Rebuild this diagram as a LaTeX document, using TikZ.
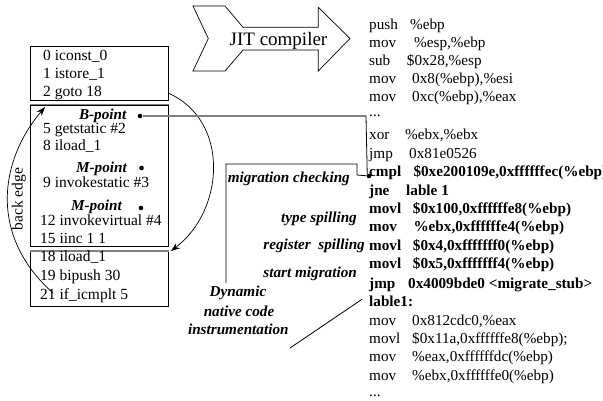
\documentclass[tikz,border=0pt]{standalone}
\usepackage{fontspec}
\setmainfont{Liberation Serif}
\usetikzlibrary{arrows.meta}

\begin{document}
\begin{tikzpicture}[x=1pt,y=-1pt,
  txt/.style={anchor=base west,inner sep=0pt,font=\fontsize{15.5}{18}\selectfont},
  lbl/.style={anchor=base east,inner sep=0pt,font=\fontsize{15.2}{18}\selectfont\bfseries\itshape},
  clbl/.style={anchor=base,inner sep=0pt,font=\fontsize{15.2}{18}\selectfont\bfseries\itshape},
  code/.style={anchor=base west,inner sep=0pt,font=\fontsize{15.2}{18}\selectfont},
  bcode/.style={anchor=base west,inner sep=0pt,font=\fontsize{15.2}{18}\selectfont\bfseries},
  blockbox/.style={draw,line width=0.8pt,anchor=north west,inner sep=0pt},
  topedge/.style={draw=black!50,line width=1.6pt},
  dot/.style={circle,fill,inner sep=0pt,minimum size=4.6pt},
  arr/.style={-{Stealth[length=9pt,width=6.5pt]},line width=0.7pt},
  link/.style={line width=0.8pt},
]
\useasboundingbox (0,0) rectangle (603,400);

% bytecode basic blocks
\node[blockbox,minimum width=138.5pt,minimum height=54pt] (b1) at (29.5,45.5) {};
\node[blockbox,minimum width=138.5pt,minimum height=141.5pt] (b2) at (29.5,104.5) {};
\node[blockbox,minimum width=138.5pt,minimum height=55pt] (b3) at (29.5,251) {};
\draw[topedge] (b2.north west) -- (b2.north east);
\draw[topedge] (b3.north west) -- (b3.north east);

\node[txt] (i0) at (43,60.5) {0 iconst\_0};
\node[txt] (i1) at (43,78.5) {1 istore\_1};
\node[txt] (i2) at (43,96.5) {2 goto 18};

\node[lbl] (bp) at (126.5,119.5) {B-point};
\node[dot] (bpd) at (140,116) {};
\node[txt] (i5) at (43,133) {5 getstatic \#2};
\node[txt] (i8) at (43,150.7) {8 iload\_1};
\node[lbl] (mp1) at (127,172.5) {M-point};
\node[dot] (mpd1) at (141.5,168) {};
\node[txt] (i9) at (43,187.3) {9 invokestatic \#3};
\node[lbl] (mp2) at (122,210) {M-point};
\node[dot] (mpd2) at (141,208) {};
\node[txt] (i12) at (40,225) {12 invokevirtual \#4};
\node[txt] (i15) at (40,243.3) {15 iinc 1 1};

\node[txt] (i18) at (40,261.5) {18 iload\_1};
\node[txt] (i19) at (40,280.5) {19 bipush 30};
\node[txt] (i21) at (40,299.3) {21 if\_icmplt 5};

% control flow edges
\coordinate (gotoout) at (168,93);
\coordinate (gotoin) at (171,251);
\draw[arr] (gotoout) .. controls (230,120) and (225,210) .. (gotoin);
\coordinate (backout) at (53,293);
\coordinate (backin) at (45,107);
\draw[arr] (backout) .. controls (-12,235) and (0,160) .. (backin);
\node[rotate=90,inner sep=0pt,font=\fontsize{15.5}{18}\selectfont] (backlbl) at (19,199) {back edge};

% compiler arrow
\draw[line width=0.7pt] (193,6) -- (225,6) -- (243,27.3) -- (318.3,27.3) -- (318.3,7.3)
  -- (350,38.5) -- (318.3,71) -- (318.3,50) -- (243,50) -- (225,71) -- (193,71)
  -- (208.3,38.5) -- cycle;
\node[anchor=base,inner sep=0pt,font=\fontsize{19}{22}\selectfont] (jit) at (278.5,45.5) {JIT compiler};

% generated native code
\node[code] (c1) at (369,29.3) {push};   \node[code] (c1o) at (410,29.3) {\%ebp};
\node[code] (c2) at (369,47.3) {mov};    \node[code] (c2o) at (414,47.3) {\%esp,\%ebp};
\node[code] (c3) at (369,65) {sub};      \node[code] (c3o) at (406.7,65) {\$0x28,\%esp};
\node[code] (c4) at (369,83.3) {mov};    \node[code] (c4o) at (412,83.3) {0x8(\%ebp),\%esi};
\node[code] (c5) at (369,101.7) {mov};   \node[code] (c5o) at (412,101.7) {0xc(\%ebp),\%eax};
\node[code] (c6) at (369,116) {...};
\node[code] (c7) at (369,139) {xor};     \node[code] (c7o) at (405,139) {\%ebx,\%ebx};
\node[code] (c8) at (369,158.3) {jmp};   \node[code] (c8o) at (409,158.3) {0x81e0526};
\node[bcode] (c9) at (369,176.7) {cmpl};  \node[bcode] (c9o) at (413.3,176.7) {\$0xe200109e,0xffffffec(\%ebp)};
\node[bcode] (c10) at (369,195) {jne};    \node[bcode] (c10o) at (406,195) {lable 1};
\node[bcode] (c11) at (369,213.3) {movl};  \node[bcode] (c11o) at (412.7,213.3) {\$0x100,0xffffffe8(\%ebp)};
\node[bcode] (c12) at (369,231.7) {mov};   \node[bcode] (c12o) at (413.3,231.7) {\%ebx,0xffffffe4(\%ebp)};
\node[bcode] (c13) at (369,250) {movl};    \node[bcode] (c13o) at (412.7,250) {\$0x4,0xfffffff0(\%ebp)};
\node[bcode] (c14) at (369,268.5) {movl};  \node[bcode] (c14o) at (412.7,268.5) {\$0x5,0xfffffff4(\%ebp)};
\node[bcode] (c15) at (369,288) {jmp};     \node[bcode] (c15o) at (408,288) {0x4009bde0 <migrate\_stub>};
\node[bcode] (c16) at (369,306.5) {lable1:};
\node[code] (c17) at (369,325) {mov};    \node[code] (c17o) at (412,325) {0x812cdc0,\%eax};
\node[code] (c18) at (369,343.3) {movl}; \node[code] (c18o) at (412,343.3) {\$0x11a,0xffffffe8(\%ebp);};
\node[code] (c19) at (369,361.7) {mov};  \node[code] (c19o) at (412,361.7) {\%eax,0xffffffdc(\%ebp)};
\node[code] (c20) at (369,380) {mov};    \node[code] (c20o) at (412,380) {\%ebx,0xffffffe0(\%ebp)};
\node[code] (c21) at (369,396) {...};

% instrumentation annotations
\node[dot] (chk) at (369,176) {};
\coordinate (bcorner) at (366,116);
\draw[draw=black!50,line width=1.4pt] (bpd) -- (bcorner);
\draw[link] (bcorner) -- (chk.north west);
\coordinate (brtop) at (226,283);
\draw[link] (brtop) -- (226,164) -- (357,164) -- (357,175) -- (chk);

\node[lbl] (l1) at (350,182) {migration checking};
\node[lbl] (l2) at (357,222.7) {type spilling};
\node[lbl] (l3) at (365,249.3) {register\ \ spilling};
\node[lbl] (l4) at (357,277.3) {start migration};
\node[clbl] (l5) at (238,296) {Dynamic};
\node[clbl] (l6) at (239,316.7) {native code};
\node[clbl] (l7) at (238.3,334) {instrumentation};
\coordinate (dnci) at (362,299.3);
\draw[link] (290,348) -- (dnci);
\end{tikzpicture}
\end{document}
